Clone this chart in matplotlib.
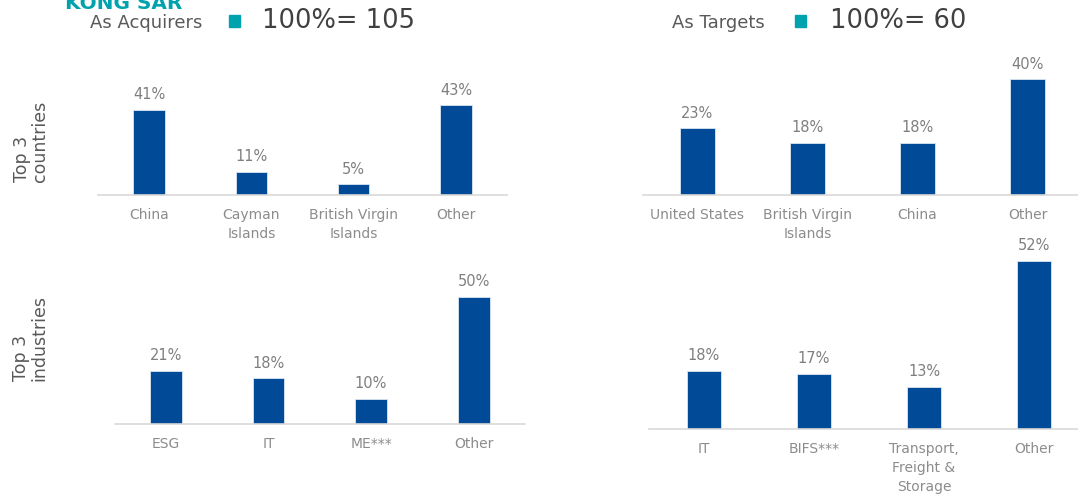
import matplotlib
matplotlib.use("Agg")
import matplotlib.pyplot as plt
from matplotlib.patches import Rectangle

# ---- data ----
acq_countries = ["China", "Cayman\nIslands", "British Virgin\nIslands", "Other"]
acq_countries_vals = [41, 11, 5, 43]
tgt_countries = ["United States", "British Virgin\nIslands", "China", "Other"]
tgt_countries_vals = [23, 18, 18, 40]
acq_industries = ["ESG", "IT", "ME***", "Other"]
acq_industries_vals = [21, 18, 10, 50]
tgt_industries = ["IT", "BIFS***", "Transport,\nFreight &\nStorage", "Other"]
tgt_industries_vals = [18, 17, 13, 52]

title_cut = "KONG SAR"
acq_title = "As Acquirers"
tgt_title = "As Targets"
acq_total = "100%= 105"
tgt_total = "100%= 60"
row_labels = ["Top 3\ncountries", "Top 3\nindustries"]

BAR = "#004A97"
TEAL = "#00A3AD"
AXIS = "#D9D9D9"
VAL = "#7F7F7F"
CAT = "#8C8C8C"

W, H = 1078, 498
fig = plt.figure(figsize=(W / 100, H / 100), dpi=100)
fig.patch.set_facecolor("white")

def px_axes(left, width, baseline, height):
    return fig.add_axes([left / W, 1 - baseline / H, width / W, height / H])

# (categories, values, left px, width px, baseline px, px per %)
panels = [
    (acq_countries, acq_countries_vals, 98, 409, 194.7, 2.075),
    (tgt_countries, tgt_countries_vals, 642.5, 440, 194.7, 2.89),
    (acq_industries, acq_industries_vals, 114.5, 410.5, 424.3, 2.55),
    (tgt_industries, tgt_industries_vals, 649, 440, 428.7, 3.23),
]

for cats, vals, left, width, base, scale in panels:
    hpx = 185
    ax = px_axes(left, width, base, hpx)
    x = list(range(len(cats)))
    ax.bar(x, vals, width=0.31, color=BAR, edgecolor="#DCE6F2", linewidth=0.6)
    ax.set_xlim(-0.5, len(cats) - 0.5)
    ax.set_ylim(0, hpx / scale)
    ax.set_xticks(x)
    ax.set_xticklabels(cats, color=CAT, fontsize=10, linespacing=1.45)
    ax.tick_params(axis="x", length=0, pad=9.5)
    ax.set_yticks([])
    for s in ["top", "left", "right"]:
        ax.spines[s].set_visible(False)
    ax.spines["bottom"].set_color(AXIS)
    ax.spines["bottom"].set_linewidth(1.2)
    ax.patch.set_alpha(0)
    for xi, v in zip(x, vals):
        ax.annotate(f"{v}%", (xi, v), xytext=(0, 7.5), textcoords="offset points",
                    ha="center", va="baseline", fontsize=10.5, color=VAL,
                    annotation_clip=False)

def ftext(xpx, ypx, s, **kw):
    fig.text(xpx / W, 1 - ypx / H, s, **kw)

ftext(65, 9, title_cut, color=TEAL, fontsize=14.4, fontweight="bold", va="baseline")
ftext(90, 28, acq_title, color="#595959", fontsize=13, va="baseline")
ftext(672, 28, tgt_title, color="#595959", fontsize=13, va="baseline")
ftext(262, 27.5, acq_total, color="#404040", fontsize=18.5, va="baseline")
ftext(830, 27.5, tgt_total, color="#404040", fontsize=18.5, va="baseline")
for sx in (229, 795):
    fig.patches.append(Rectangle((sx / W, 1 - 27 / H), 11 / W, 12 / H,
                                 transform=fig.transFigure, color=TEAL))

ftext(31, 141, row_labels[0], color="#595959", fontsize=12.5, rotation=90,
      ha="center", va="center", multialignment="left", linespacing=1.0)
ftext(30, 338, row_labels[1], color="#595959", fontsize=12.5, rotation=90,
      ha="center", va="center", multialignment="left", linespacing=1.0)

fig.savefig("out.png", dpi=100, facecolor="white")
